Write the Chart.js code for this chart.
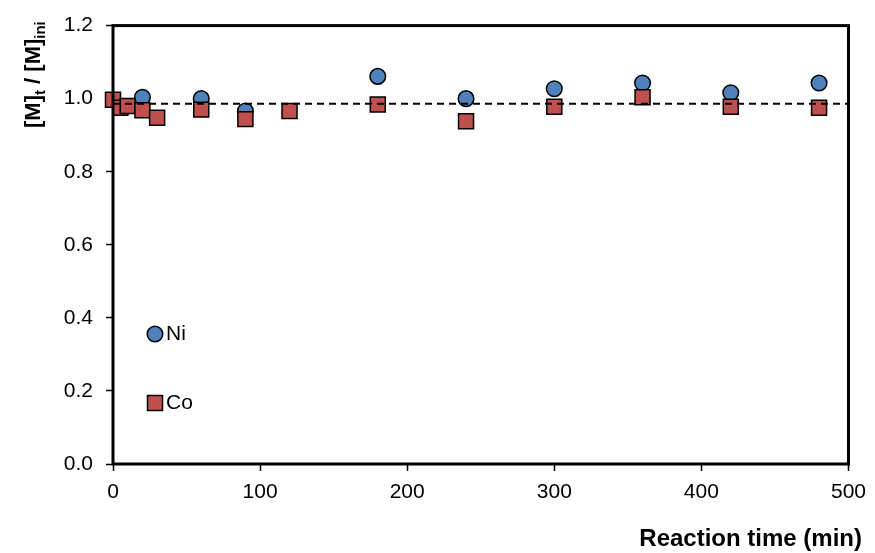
<!DOCTYPE html>
<html lang="en">
<head>
    <meta charset="UTF-8">
    <title> Ni / Co vs reaction time </title>
    <style>
        /* Page body */
        body {
            margin: 0px;
            background-color: white;
        }
        .box {
            width: 875px;
            height: 553px;
        }
    </style>
    <script src="https://cdn.jsdelivr.net/npm/chart.js"></script>
</head>
<body>

<div class="box">
    <canvas id="graph1" width="875" height="553"></canvas>
</div>

<script>
    // Data
    const timeNi = [20, 60, 90, 180, 240, 300, 360, 420, 480];
    const valuesNi = [1.004, 1.00, 0.966, 1.061, 1.00, 1.027, 1.043, 1.016, 1.043];

    const timeCo = [0, 5, 10, 20, 30, 60, 90, 120, 180, 240, 300, 360, 420, 480];
    const valuesCo = [0.997, 0.975, 0.98, 0.968, 0.948, 0.97, 0.944, 0.966, 0.984, 0.938, 0.978, 1.004, 0.978, 0.975];

    const refTime = [0, 500];
    const refValue = [0.986, 0.986];

    const xTicks = [0, 100, 200, 300, 400, 500];
    const yTicks = [0.0, 0.2, 0.4, 0.6, 0.8, 1.0, 1.2];

    const font = "'Liberation Sans', Arial, sans-serif";
    const blue = '#4F81BD';
    const red = '#C0504D';

    function points(xs, ys) {
        return xs.map(function (x, i) { return {x: x, y: ys[i]}; });
    }

    // frame, legend and axis titles
    const extras = {
        id: 'extras',
        afterDatasetsDraw: function (chart) {
            const ctx = chart.ctx;
            const a = chart.chartArea;
            ctx.save();
            ctx.strokeStyle = 'black';
            ctx.lineWidth = 3;
            ctx.strokeRect(a.left, a.top, a.right - a.left, a.bottom - a.top);
            ctx.restore();
        },
        afterDraw: function (chart) {
            const ctx = chart.ctx;
            ctx.save();

            // legend
            ctx.lineWidth = 1.5;
            ctx.strokeStyle = 'black';
            ctx.fillStyle = blue;
            ctx.beginPath();
            ctx.arc(155, 334, 7.8, 0, Math.PI * 2);
            ctx.fill();
            ctx.stroke();
            ctx.fillStyle = red;
            ctx.fillRect(147.5, 395.5, 15, 15);
            ctx.strokeRect(147.5, 395.5, 15, 15);

            ctx.fillStyle = 'black';
            ctx.font = '21px ' + font;
            ctx.textBaseline = 'middle';
            ctx.textAlign = 'left';
            ctx.fillText('Ni', 166, 334);
            ctx.fillText('Co', 166, 403);

            // x title
            ctx.font = 'bold 24px ' + font;
            ctx.textAlign = 'right';
            ctx.fillText('Reaction time (min)', 862, 539);

            // y title with subscripts, rotated
            ctx.translate(32, 128);
            ctx.rotate(-Math.PI / 2);
            ctx.textAlign = 'left';
            ctx.textBaseline = 'alphabetic';
            const parts = [
                ['[M]', 0], ['t', 1], [' / [M]', 0], ['ini', 1]
            ];
            let x = 0;
            parts.forEach(function (p) {
                ctx.font = p[1] ? 'bold 15px ' + font : 'bold 22px ' + font;
                ctx.fillText(p[0], x, p[1] ? 13 : 8);
                x += ctx.measureText(p[0]).width;
            });
            ctx.restore();
        }
    };

    const config = {
        type: 'scatter',
        data: {
            datasets: [{
                label: 'ref',
                type: 'line',
                data: points(refTime, refValue),
                borderColor: 'black',
                borderWidth: 2,
                borderDash: [7, 5],
                pointRadius: 0,
                fill: false
            }, {
                label: 'Co',
                data: points(timeCo, valuesCo),
                clip: false,
                pointStyle: 'rect',
                pointRadius: 10.6,
                pointHoverRadius: 10.6,
                backgroundColor: red,
                borderColor: 'black',
                borderWidth: 1.5
            }, {
                label: 'Ni',
                data: points(timeNi, valuesNi),
                clip: false,
                pointStyle: 'circle',
                pointRadius: 7.8,
                pointHoverRadius: 7.8,
                backgroundColor: blue,
                borderColor: 'black',
                borderWidth: 1.5
            }]
        },
        options: {
            responsive: false,
            animation: false,
            events: [],
            layout: {
                padding: {left: 0, top: 23, right: 25, bottom: 0}
            },
            plugins: {
                legend: {display: false},
                tooltip: {enabled: false}
            },
            scales: {
                x: {
                    type: 'linear',
                    min: 0,
                    max: 500,
                    afterFit: function (s) { s.height = 89; },
                    afterBuildTicks: function (s) {
                        s.ticks = xTicks.map(function (v) { return {value: v}; });
                    },
                    grid: {
                        drawOnChartArea: false,
                        drawTicks: true,
                        tickLength: 7,
                        tickWidth: 1.5,
                        tickColor: 'black'
                    },
                    border: {display: false},
                    ticks: {
                        color: 'black',
                        padding: 9,
                        maxRotation: 0,
                        font: {family: font, size: 21}
                    }
                },
                y: {
                    type: 'linear',
                    min: 0,
                    max: 1.2,
                    afterFit: function (s) { s.width = 113; },
                    afterBuildTicks: function (s) {
                        s.ticks = yTicks.map(function (v) { return {value: v}; });
                    },
                    grid: {
                        drawOnChartArea: false,
                        drawTicks: true,
                        tickLength: 7,
                        tickWidth: 1.5,
                        tickColor: 'black'
                    },
                    border: {display: false},
                    ticks: {
                        color: 'black',
                        padding: 13,
                        font: {family: font, size: 21},
                        callback: function (v) { return v.toFixed(1); }
                    }
                }
            }
        },
        plugins: [extras]
    };

    let graph1 = new Chart(document.getElementById('graph1'), config);
</script>
</body>
</html>
